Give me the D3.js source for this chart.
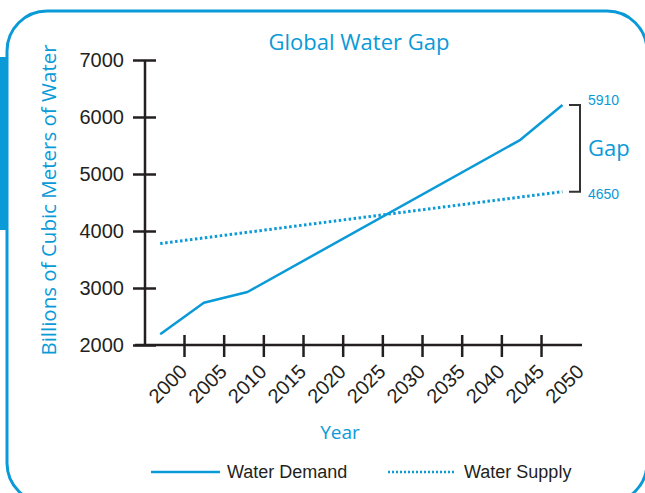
<!DOCTYPE html>
<html>
<head>
<meta charset="utf-8">
<script src="https://cdn.jsdelivr.net/npm/d3@7"></script>
<style>
  body { margin: 0; background: #fff; }
  svg { display: block; }
</style>
</head>
<body>
<svg class="chart"></svg>
<script>
// Data
var demandYears = [1997, 2002.5, 2008, 2042.4, 2047.7];
var demandValues = [2190, 2740, 2930, 5600, 6210];
var supplyYears = [1997, 2047.7];
var supplyValues = [3780, 4690];
var xTicks = [2000, 2005, 2010, 2015, 2020, 2025, 2030, 2035, 2040, 2045, 2050];
var yTicks = [2000, 3000, 4000, 5000, 6000, 7000];
var gapTop = 5910;
var gapBottom = 4650;

var blue = "#0a9ad7";
var ink = "#231f20";
var width = 645, height = 493;

var svg = d3.select(".chart")
    .attr("width", width)
    .attr("height", height);

// frame
svg.append("rect")
    .attr("x", 7).attr("y", 11)
    .attr("width", 640).attr("height", 492)
    .attr("rx", 40)
    .attr("fill", "none")
    .attr("stroke", blue)
    .attr("stroke-width", 3);
svg.append("rect")
    .attr("x", 0).attr("y", 57)
    .attr("width", 7).attr("height", 173)
    .attr("fill", blue);

// scales
var x = d3.scaleLinear().domain([2000, 2050]).range([184, 580.7]);
var y = d3.scaleLinear().domain([2000, 7000]).range([345, 60]);

// title
svg.append("text")
    .attr("x", 359).attr("y", 50)
    .attr("text-anchor", "middle")
    .style("font-family", "'Open Sans', sans-serif")
    .style("font-size", "22px")
    .style("fill", blue)
    .text("Global Water Gap");

// y axis
var yAxis = d3.axisLeft(y)
    .tickValues(yTicks)
    .tickSize(0)
    .tickPadding(21)
    .tickFormat(d3.format("d"));

var yg = svg.append("g")
    .attr("transform", "translate(145,0)")
    .call(yAxis);
yg.select(".domain").remove();
yg.selectAll(".tick line")
    .attr("x1", -12).attr("x2", 11)
    .attr("stroke", ink).attr("stroke-width", 2.5);
yg.selectAll(".tick text")
    .style("font-family", "'Liberation Sans', Arial, sans-serif")
    .style("font-size", "20px")
    .style("fill", ink);
yg.append("line")
    .attr("x1", 0).attr("x2", 0)
    .attr("y1", y(7000)).attr("y2", y(2000))
    .attr("stroke", ink).attr("stroke-width", 2.5);

// x axis
var xAxis = d3.axisBottom(x)
    .tickValues(xTicks)
    .tickSize(0)
    .tickFormat(d3.format("d"));

var xg = svg.append("g")
    .attr("transform", "translate(0,345)")
    .call(xAxis);
xg.select(".domain").remove();
xg.selectAll(".tick line")
    .attr("y1", -10).attr("y2", 12)
    .attr("stroke", ink).attr("stroke-width", 2.5)
    .attr("display", d => d === 2050 ? "none" : null);
xg.selectAll(".tick text")
    .attr("transform", "translate(-1,23) rotate(-45)")
    .attr("dy", "0.35em")
    .attr("y", 0)
    .style("text-anchor", "end")
    .style("font-family", "'Liberation Sans', Arial, sans-serif")
    .style("font-size", "20px")
    .style("fill", ink);
xg.append("line")
    .attr("x1", 135).attr("x2", 582)
    .attr("y1", 0).attr("y2", 0)
    .attr("stroke", ink).attr("stroke-width", 2.5);

// axis titles
svg.append("text")
    .attr("transform", "translate(56,200) rotate(-90)")
    .attr("text-anchor", "middle")
    .style("font-family", "'Open Sans', sans-serif")
    .style("font-size", "20.5px")
    .style("fill", blue)
    .text("Billions of Cubic Meters of Water");

svg.append("text")
    .attr("x", 340).attr("y", 439)
    .attr("text-anchor", "middle")
    .style("font-family", "'Open Sans', sans-serif")
    .style("font-size", "19px")
    .style("fill", blue)
    .text("Year");

// lines
var demand = demandYears.map((d, i) => [d, demandValues[i]]);
var supply = supplyYears.map((d, i) => [d, supplyValues[i]]);
var line = d3.line().x(d => x(d[0])).y(d => y(d[1]));

svg.append("path")
    .datum(supply)
    .attr("d", line)
    .attr("fill", "none")
    .attr("stroke", blue)
    .attr("stroke-width", 3)
    .attr("stroke-dasharray", "2.5,2.5");

svg.append("path")
    .datum(demand)
    .attr("d", line)
    .attr("fill", "none")
    .attr("stroke", blue)
    .attr("stroke-width", 2.5)
    .attr("stroke-linejoin", "round");

// gap bracket
var bx = 580;
svg.append("path")
    .attr("d", `M${bx - 11},${y(6210)}H${bx}V${y(4690)}H${bx - 11}`)
    .attr("fill", "none")
    .attr("stroke", "#333")
    .attr("stroke-width", 2);

svg.append("text")
    .attr("x", 588).attr("y", y(6210) - 5)
    .attr("dy", "0.35em")
    .style("font-family", "'Liberation Sans', Arial, sans-serif")
    .style("font-size", "14px")
    .style("fill", blue)
    .text(gapTop);
svg.append("text")
    .attr("x", 588).attr("y", y(4690) + 2)
    .attr("dy", "0.35em")
    .style("font-family", "'Liberation Sans', Arial, sans-serif")
    .style("font-size", "14px")
    .style("fill", blue)
    .text(gapBottom);
svg.append("text")
    .attr("x", 588).attr("y", (y(6210) + y(4690)) / 2)
    .attr("dy", "0.35em")
    .style("font-family", "'Open Sans', sans-serif")
    .style("font-size", "22px")
    .style("fill", blue)
    .text("Gap");

// legend
var legend = svg.append("g").attr("transform", "translate(0,472)");
legend.append("line")
    .attr("x1", 151).attr("x2", 220)
    .attr("stroke", blue).attr("stroke-width", 2.5);
legend.append("text")
    .attr("x", 227).attr("dy", "0.35em")
    .style("font-family", "'Liberation Sans', Arial, sans-serif")
    .style("font-size", "18px")
    .style("fill", ink)
    .text("Water Demand");
legend.append("line")
    .attr("x1", 388).attr("x2", 455)
    .attr("stroke", blue).attr("stroke-width", 2.5)
    .attr("stroke-dasharray", "2,2");
legend.append("text")
    .attr("x", 464).attr("dy", "0.35em")
    .style("font-family", "'Liberation Sans', Arial, sans-serif")
    .style("font-size", "18px")
    .style("fill", ink)
    .text("Water Supply");
</script>
</body>
</html>
